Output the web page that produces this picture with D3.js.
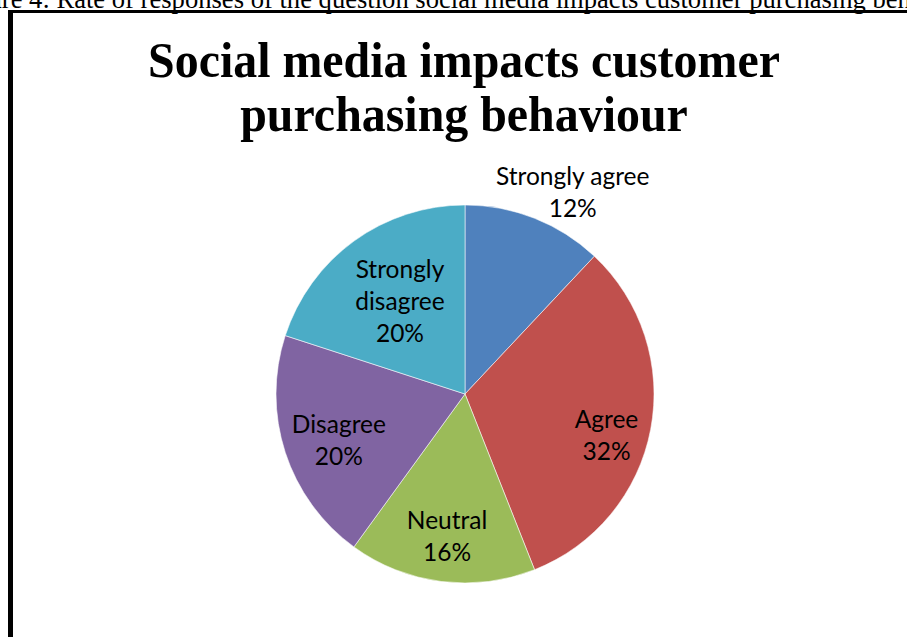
<!DOCTYPE html>
<html>
<head>
<meta charset="utf-8">
<script src="https://cdn.jsdelivr.net/npm/d3@7"></script>
<style>
  html, body { margin: 0; padding: 0; background: #fff; overflow: hidden; }
  svg { display: block; }
</style>
</head>
<body>
<script>
// Survey responses: "Social media impacts customer purchasing behaviour"
const categories = ["Strongly agree", "Agree", "Neutral", "Disagree", "Strongly disagree"];
const percentages = [12, 32, 16, 20, 20];
const sliceColors = ["#4F81BD", "#C0504D", "#9BBB59", "#8064A2", "#4BACC6"];
const titleLines = ["Social media impacts customer", "purchasing behaviour"];
const captionText = "Figure 4: Rate of responses of the question social media impacts customer purchasing behaviour";

// Layout
const W = 907, H = 637;
const cx = 465, cy = 394, radius = 189;
// Label anchor per slice: distance from centre (fraction of radius) and an angular nudge (degrees)
const labelLayout = [
  { r: 1.21, nudge: 6.5 },
  { r: 0.78, nudge: 5.5 },
  { r: 0.76, nudge: 0 },
  { r: 0.71, nudge: -2 },
  { r: 0.60, nudge: 1 }
];
// Label text wrapping (lines per slice)
const labelWrap = [
  ["Strongly agree"],
  ["Agree"],
  ["Neutral"],
  ["Disagree"],
  ["Strongly", "disagree"]
];

const svg = d3.select("body").append("svg")
  .attr("width", W).attr("height", H);

svg.append("rect").attr("width", W).attr("height", H).attr("fill", "#fff");

// Caption of the figure (runs off the edges)
svg.append("text")
  .attr("x", -47).attr("y", 8)
  .attr("font-family", "'Liberation Serif', 'Times New Roman', serif")
  .attr("font-size", 26.6)
  .attr("fill", "#000")
  .text(captionText);

// Chart frame
svg.append("rect").attr("x", 8).attr("y", 10).attr("width", W - 8).attr("height", 3).attr("fill", "#000");
svg.append("rect").attr("x", 8).attr("y", 10).attr("width", 5).attr("height", H - 10).attr("fill", "#000");

// Title
const titleG = svg.append("g");
const titleTexts = titleG.selectAll("text")
  .data(titleLines)
  .join("text")
  .attr("x", 0)
  .attr("y", (d, i) => 77 + i * 54)
  .attr("text-anchor", "middle")
  .attr("font-family", "'Liberation Serif', 'Times New Roman', serif")
  .attr("font-weight", "bold")
  .attr("font-size", 51)
  .attr("fill", "#000")
  .text(d => d);
const firstWidth = titleTexts.node().getComputedTextLength();
const sx = 632 / firstWidth;
titleG.attr("transform", `translate(464,0) scale(${sx},1)`);

// Pie
const pie = d3.pie().sort(null).value(d => d.value);
const arcs = pie(categories.map((c, i) => ({ name: c, value: percentages[i], i })));
const arc = d3.arc().innerRadius(0).outerRadius(radius);
const color = d3.scaleOrdinal().domain(categories).range(sliceColors);

const g = svg.append("g").attr("transform", `translate(${cx},${cy})`);

g.selectAll("path")
  .data(arcs)
  .join("path")
  .attr("d", arc)
  .attr("fill", d => color(d.data.name))
  .attr("stroke", "#fff")
  .attr("stroke-opacity", 0.55)
  .attr("stroke-width", 1);

// Data labels
const lineH = 32;
const labels = g.selectAll("g.lbl")
  .data(arcs)
  .join("g")
  .attr("class", "lbl")
  .attr("transform", d => {
    const L = labelLayout[d.data.i];
    const a = (d.startAngle + d.endAngle) / 2 + L.nudge * Math.PI / 180;
    const rr = L.r * radius;
    return `translate(${rr * Math.sin(a)},${-rr * Math.cos(a)})`;
  });

labels.each(function(d) {
  const lines = labelWrap[d.data.i].concat([d.data.value + "%"]);
  const n = lines.length;
  d3.select(this).selectAll("text")
    .data(lines)
    .join("text")
    .attr("x", 0)
    .attr("y", (t, k) => (k - (n - 1) / 2) * lineH)
    .attr("dy", "0.36em")
    .attr("text-anchor", "middle")
    .attr("font-family", "Lato, 'Open Sans', sans-serif")
    .attr("font-size", 24.5)
    .attr("fill", "#000")
    .text(t => t);
});
</script>
</body>
</html>
